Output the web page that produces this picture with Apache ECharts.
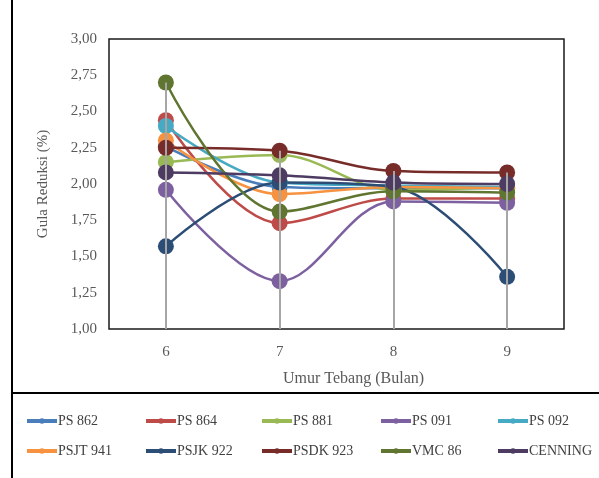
<!DOCTYPE html>
<html><head><meta charset="utf-8">
<script src="https://cdn.jsdelivr.net/npm/echarts@6/dist/echarts.min.js"></script>
<style>html,body{margin:0;padding:0;background:#fff}#c{width:599px;height:478px}</style>
</head><body><div id="c"></div>
<script>
const categories = ['6', '7', '8', '9'];
const yTicks = ['1,00','1,25','1,50','1,75','2,00','2,25','2,50','2,75','3,00'];
const names = ['PS 862','PS 864','PS 881','PS 091','PS 092','PSJT 941','PSJK 922','PSDK 923','VMC 86','CENNING'];
const ps862 = [2.26, 1.98, 1.97, 1.97];
const ps864 = [2.44, 1.73, 1.90, 1.90];
const ps881 = [2.15, 2.20, 1.96, 1.98];
const ps091 = [1.96, 1.33, 1.88, 1.87];
const ps092 = [2.40, 2.01, 1.99, 1.98];
const psjt941 = [2.30, 1.93, 1.98, 1.97];
const psjk922 = [1.57, 2.01, 1.98, 1.36];
const psdk923 = [2.25, 2.23, 2.09, 2.08];
const vmc86 = [2.70, 1.81, 1.95, 1.94];
const cenning = [2.08, 2.06, 2.01, 2.00];
const values = [ps862, ps864, ps881, ps091, ps092, psjt941, psjk922, psdk923, vmc86, cenning];
const colors = ['#4A7EBB','#BE4B48','#98B954','#7D60A0','#46AAC5','#F69240','#2C4D75','#772C2A','#5F7530','#4D3B62'];

const font = '"Liberation Serif", "Times New Roman", serif';
const chart = echarts.init(document.getElementById('c'));

const maxPer = categories.map((c, i) => Math.max(...values.map(v => v[i])));
const series = names.map((n, k) => ({
  name: n, type: 'line', data: values[k], smooth: 0.35,
  symbol: 'circle', symbolSize: 16, z: 3,
  lineStyle: { width: 2.5, color: colors[k] },
  itemStyle: { color: colors[k] }
}));
series.unshift({
  name: '_drop', type: 'line', data: [], z: 1, silent: true,
  markLine: {
    symbol: 'none', silent: true, label: { show: false },
    lineStyle: { color: '#A6A6A6', width: 2, type: 'solid' },
    data: categories.map((c, i) => [{ coord: [c, maxPer[i]] }, { coord: [c, 1] }])
  }
});

const colX = [25, 144, 260, 379, 496];
const legends = names.map((n, k) => ({
  data: [n], left: colX[k % 5], top: k < 5 ? 414 : 444,
  itemWidth: 30, itemHeight: 7, padding: 0,
  lineStyle: { width: 4 },
  textStyle: { fontFamily: font, fontSize: 14, color: '#404040', padding: [0,0,0,-4] }
}));

chart.setOption({
  animation: false,
  color: colors,
  legend: legends,
  grid: { left: 109, right: 35, top: 39, bottom: 149, show: true, borderColor: '#1a1a1a', borderWidth: 1.5 },
  xAxis: {
    type: 'category', data: categories, boundaryGap: true,
    axisLine: { show: false }, axisTick: { show: false },
    axisLabel: { fontFamily: font, fontSize: 15, color: '#595959', margin: 16 }
  },
  yAxis: {
    type: 'value', min: 1, max: 3, interval: 0.25,
    name: 'Gula Reduksi (%)', nameLocation: 'middle', nameGap: 58,
    nameTextStyle: { fontFamily: font, fontSize: 15, color: '#595959' },
    splitLine: { show: false }, axisLine: { show: false }, axisTick: { show: false },
    axisLabel: { fontFamily: font, fontSize: 15, color: '#595959', margin: 12,
      formatter: v => yTicks[Math.round((v - 1) / 0.25)] }
  },
  graphic: [
    { type: 'text', left: 283, top: 371, style: { text: 'Umur Tebang (Bulan)', font: '16px ' + font, fill: '#595959' } },
    { type: 'line', shape: { x1: 12, y1: 0, x2: 12, y2: 478 }, style: { stroke: '#000', lineWidth: 2 } },
    { type: 'line', shape: { x1: 12, y1: 393, x2: 599, y2: 393 }, style: { stroke: '#000', lineWidth: 2 } }
  ],
  series: series
});
</script></body></html>
